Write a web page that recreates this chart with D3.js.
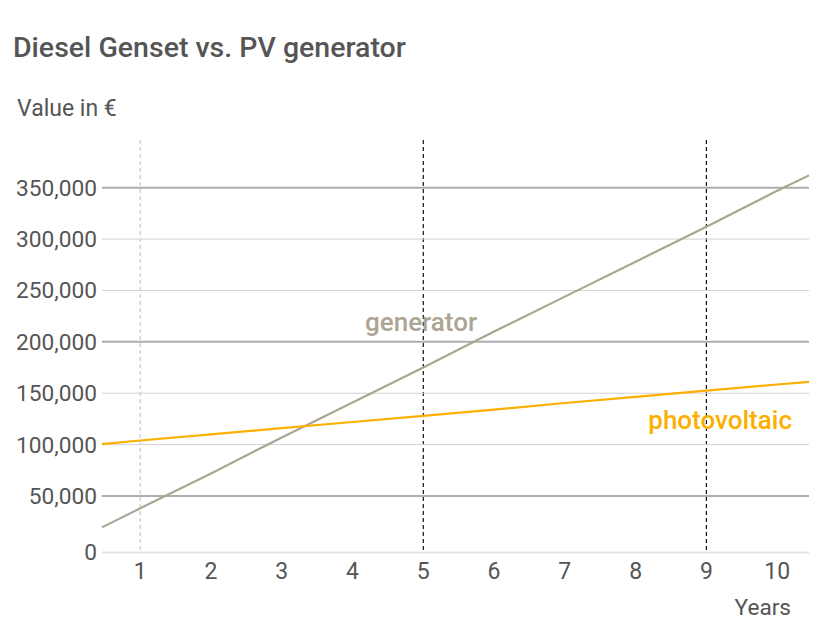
<!DOCTYPE html>
<html>
<head>
<meta charset="utf-8">
<script src="https://cdn.jsdelivr.net/npm/d3@7/dist/d3.min.js"></script>
<style>
  html, body { margin: 0; padding: 0; background: #fff; }
  svg { display: block; font-family: Roboto, "Noto Sans", sans-serif; }
</style>
</head>
<body>
<svg id="chart" width="834" height="625"></svg>
<script>
// ---- data ----
const years = [0.46, 1, 2, 3, 4, 5, 6, 7, 8, 9, 10, 10.45];
const generatorValues = [19500, 38000, 72000, 107000, 141000, 175000, 210000, 244000, 278000, 312000, 347000, 362000];
const photovoltaicValues = [100500, 104000, 110000, 116000, 122000, 128000, 134000, 140500, 146500, 152500, 158500, 161000];
const xTicks = [1, 2, 3, 4, 5, 6, 7, 8, 9, 10];
const yTicks = [0, 50000, 100000, 150000, 200000, 250000, 300000, 350000];
const strongTicks = [50000, 200000, 350000];
const markerYears = [1, 5, 9];
const highlightYears = [5, 9];
const titleText = "Diesel Genset vs. PV generator";
const yAxisTitle = "Value in €";
const xAxisTitle = "Years";
const seriesLabels = ["generator", "photovoltaic"];

// ---- layout ----
const svg = d3.select("#chart");
const x = d3.scaleLinear().domain([0.46, 10.45]).range([102, 809]);
const y = d3.scaleLinear().domain([0, 350000]).range([547.4, 187.7]);
const baselineY = y(0) + 5;
const ypos = v => v === 0 ? baselineY : y(v);
const fmt = d3.format(",");
const textColor = "#555555";
const genColor = "#aba592";
const pvColor = "#fbb000";

// title
svg.append("text").attr("x", 13).attr("y", 57)
  .attr("font-size", 28.5).attr("font-weight", 500).attr("fill", textColor)
  .text(titleText);
svg.append("text").attr("x", 17).attr("y", 116)
  .attr("font-size", 23).attr("fill", textColor)
  .text(yAxisTitle);

// vertical marker lines
svg.append("g").selectAll("line").data(markerYears).join("line")
  .attr("x1", d => x(d)).attr("x2", d => x(d))
  .attr("y1", 140).attr("y2", baselineY)
  .attr("stroke", d => highlightYears.includes(d) ? "#111" : "#c8c8c8")
  .attr("stroke-width", 1.2)
  .attr("stroke-dasharray", "4,3");

// gridlines
svg.append("g").selectAll("line").data(yTicks).join("line")
  .attr("x1", x.range()[0]).attr("x2", x.range()[1])
  .attr("y1", d => ypos(d)).attr("y2", d => ypos(d))
  .attr("stroke", d => d === 0 ? "#e3e3e3" : strongTicks.includes(d) ? "#adadad" : "#d2d2d2")
  .attr("stroke-width", d => d === 0 ? 2 : strongTicks.includes(d) ? 2 : 1);

// y tick labels
svg.append("g").selectAll("text").data(yTicks).join("text")
  .attr("x", 97).attr("y", d => ypos(d))
  .attr("dy", "0.35em")
  .attr("text-anchor", "end")
  .attr("font-size", 22.7).attr("fill", textColor)
  .text(d => fmt(d));

// x tick labels
svg.append("g").selectAll("text").data(xTicks).join("text")
  .attr("x", d => x(d)).attr("y", baselineY + 19)
  .attr("dy", "0.35em")
  .attr("text-anchor", "middle")
  .attr("font-size", 23).attr("fill", textColor)
  .text(d => d);

svg.append("text").attr("x", 791).attr("y", 615)
  .attr("text-anchor", "end")
  .attr("font-size", 22.6).attr("fill", textColor)
  .text(xAxisTitle);

// lines
const line = d3.line().x(d => x(d[0])).y(d => y(d[1]));
svg.append("path")
  .datum(years.map((yr, i) => [yr, generatorValues[i]]))
  .attr("d", line).attr("fill", "none")
  .attr("stroke", genColor).attr("stroke-width", 2.2);
svg.append("path")
  .datum(years.map((yr, i) => [yr, photovoltaicValues[i]]))
  .attr("d", line).attr("fill", "none")
  .attr("stroke", pvColor).attr("stroke-width", 2.2);

// series labels
svg.append("text").attr("x", 365).attr("y", 331)
  .attr("font-size", 26).attr("font-weight", 500).attr("fill", genColor)
  .text(seriesLabels[0]);
svg.append("text").attr("x", 792).attr("y", 429)
  .attr("text-anchor", "end")
  .attr("font-size", 26).attr("font-weight", 500).attr("fill", pvColor)
  .text(seriesLabels[1]);
</script>
</body>
</html>
